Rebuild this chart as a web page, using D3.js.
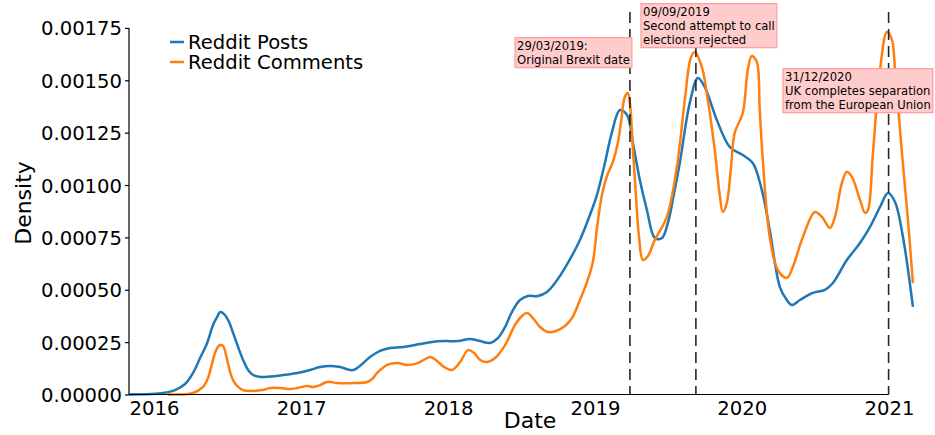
<!DOCTYPE html>
<html><head><meta charset="utf-8">
<script src="https://cdn.jsdelivr.net/npm/d3@7"></script>
<style>
html,body{margin:0;padding:0;background:#fff;}
svg{display:block;font-family:"DejaVu Sans",sans-serif;}
</style></head>
<body>
<svg id="chart" width="935" height="435"></svg>
<script>
// ---------- data (decimal years) ----------
const postsYears = [2015.830,2015.973,2016.061,2016.143,2016.211,2016.265,2016.313,2016.361,2016.401,2016.429,2016.449,2016.476,2016.510,2016.537,2016.571,2016.605,2016.639,2016.673,2016.721,2016.789,2016.857,2016.973,2017.061,2017.129,2017.197,2017.265,2017.354,2017.469,2017.537,2017.605,2017.694,2017.810,2017.891,2017.980,2018.068,2018.150,2018.218,2018.286,2018.340,2018.388,2018.435,2018.490,2018.544,2018.612,2018.673,2018.728,2018.796,2018.898,2018.966,2019.014,2019.068,2019.116,2019.170,2019.218,2019.259,2019.306,2019.354,2019.408,2019.456,2019.497,2019.537,2019.578,2019.646,2019.701,2019.748,2019.830,2019.918,2020.007,2020.075,2020.136,2020.190,2020.259,2020.306,2020.340,2020.395,2020.483,2020.565,2020.619,2020.714,2020.803,2020.871,2020.939,2020.993,2021.041,2021.095,2021.163];
const postsValues = [0,0.000002,0.000007,0.000021,0.00005,0.000103,0.000174,0.000246,0.000332,0.00037,0.000394,0.000384,0.000346,0.000294,0.000227,0.000165,0.000117,0.000093,0.000084,0.000086,0.000091,0.000103,0.000117,0.000131,0.000136,0.000131,0.000117,0.000179,0.000208,0.000222,0.000227,0.000241,0.000251,0.000255,0.000255,0.000265,0.000255,0.000246,0.00027,0.000322,0.000394,0.000451,0.00047,0.00047,0.000489,0.000532,0.000604,0.000738,0.000857,0.000953,0.001105,0.001253,0.001358,0.001335,0.0012,0.001024,0.000881,0.000747,0.000747,0.000819,0.000953,0.001105,0.001392,0.001511,0.001468,0.001311,0.001182,0.001143,0.001105,0.000977,0.000785,0.000513,0.000451,0.000427,0.000451,0.000485,0.000499,0.000532,0.000642,0.000723,0.0008,0.000895,0.000962,0.000919,0.000752,0.000418];

const commentsYears = [2016.095,2016.265,2016.333,2016.367,2016.395,2016.422,2016.449,2016.469,2016.497,2016.517,2016.537,2016.571,2016.605,2016.673,2016.735,2016.789,2016.857,2016.925,2016.973,2017.041,2017.082,2017.129,2017.177,2017.245,2017.354,2017.449,2017.483,2017.517,2017.585,2017.653,2017.721,2017.776,2017.823,2017.878,2017.925,2017.973,2018.027,2018.082,2018.136,2018.177,2018.218,2018.265,2018.320,2018.388,2018.456,2018.503,2018.537,2018.578,2018.626,2018.680,2018.735,2018.796,2018.844,2018.898,2018.946,2018.986,2019.014,2019.048,2019.082,2019.122,2019.156,2019.177,2019.204,2019.224,2019.238,2019.259,2019.279,2019.299,2019.327,2019.361,2019.408,2019.490,2019.558,2019.612,2019.653,2019.680,2019.728,2019.769,2019.816,2019.850,2019.871,2019.898,2019.925,2019.952,2020.007,2020.041,2020.068,2020.102,2020.122,2020.143,2020.190,2020.245,2020.306,2020.347,2020.415,2020.497,2020.544,2020.599,2020.633,2020.680,2020.714,2020.748,2020.803,2020.837,2020.857,2020.891,2020.939,2020.986,2021.020,2021.041,2021.088,2021.129,2021.163];
const commentsValues = [0,0.000007,0.000036,0.000079,0.00015,0.000212,0.000236,0.000232,0.000165,0.000107,0.000069,0.000036,0.000021,0.000017,0.000021,0.000031,0.000031,0.000026,0.000031,0.000041,0.000036,0.000045,0.00006,0.000055,0.000055,0.00006,0.000074,0.000103,0.000141,0.00015,0.000141,0.000146,0.00016,0.000179,0.00016,0.000131,0.000117,0.000155,0.000212,0.000198,0.000165,0.000155,0.000174,0.000236,0.000332,0.000375,0.000389,0.000365,0.000322,0.000298,0.000303,0.000327,0.000365,0.000451,0.000537,0.000633,0.000795,0.000953,0.001043,0.00111,0.001201,0.001296,0.001421,0.001439,0.001392,0.001168,0.000953,0.000762,0.000642,0.000661,0.000738,0.000848,0.001086,0.001406,0.001607,0.001635,0.001564,0.001406,0.001168,0.000953,0.000871,0.000914,0.001072,0.001249,0.001344,0.00155,0.001616,0.001588,0.001358,0.00112,0.000752,0.000594,0.000556,0.000609,0.000752,0.000871,0.000848,0.000795,0.000848,0.00101,0.001063,0.001039,0.000929,0.000867,0.000881,0.001153,0.00155,0.001731,0.001693,0.00155,0.001153,0.000833,0.000532];

const seriesNames = ["Reddit Posts","Reddit Comments"];
const seriesColors = ["#1f77b4","#ff7f0e"];
const yTicks = [0,0.00025,0.0005,0.00075,0.001,0.00125,0.0015,0.00175];
const xTickYears = [2016,2017,2018,2019,2020,2021];
const eventDates = ["2019-03-29","2019-09-09","2020-12-31"];
const eventLabels = [["29/03/2019:","Original Brexit date"],["09/09/2019","Second attempt to call","elections rejected"],["31/12/2020","UK completes separation","from the European Union"]];

// ---------- helpers ----------
function yearToDate(v){
  const yr = Math.floor(v);
  const a = Date.UTC(yr,0,1), b = Date.UTC(yr+1,0,1);
  return new Date(a + (v-yr)*(b-a));
}

const svg = d3.select("#chart");
const plotLeft = 129, plotTop = 12, plotBottom = 394.5;

const x = d3.scaleUtc().domain([new Date(Date.UTC(2016,0,1)), new Date(Date.UTC(2021,0,1))]).range([154, 889]);
const y = d3.scaleLinear().domain([0, 0.001826]).range([plotBottom, plotTop]);

const series = [
  postsYears.map((t,i)=>({d:yearToDate(t), v:postsValues[i]})),
  commentsYears.map((t,i)=>({d:yearToDate(t), v:commentsValues[i]}))
];

const line = d3.line().x(p=>x(p.d)).y(p=>y(p.v)).curve(d3.curveCatmullRom.alpha(0.5));

series.forEach((s,i)=>{
  svg.append("path").datum(s).attr("d",line)
    .attr("fill","none").attr("stroke",seriesColors[i]).attr("stroke-width",2.5)
    .attr("stroke-linejoin","round").attr("stroke-linecap","butt");
});

// event lines
eventDates.forEach(ds=>{
  const xd = x(new Date(ds+"T00:00:00Z"));
  svg.append("line").attr("x1",xd).attr("x2",xd).attr("y1",plotTop).attr("y2",plotBottom)
    .attr("stroke","#262626").attr("stroke-width",1.6).attr("stroke-dasharray","11,6");
});

// axes
const yAxis = d3.axisLeft(y).tickValues(yTicks).tickFormat(d3.format(".5f")).tickSize(4).tickSizeOuter(0).tickPadding(3);
const gy = svg.append("g").attr("transform",`translate(${plotLeft},0)`).call(yAxis);
gy.select(".domain").remove();
gy.selectAll(".tick line").attr("stroke","#000").attr("stroke-width",1.2);
gy.selectAll(".tick text").attr("font-size","19.6px").attr("font-family","DejaVu Sans").attr("fill","#000").attr("dy","0.36em");
svg.append("line").attr("x1",plotLeft).attr("x2",plotLeft).attr("y1",y(0.00175)).attr("y2",plotBottom)
  .attr("stroke","#000").attr("stroke-width",1.2);

const xAxis = d3.axisBottom(x).tickValues(xTickYears.map(v=>new Date(Date.UTC(v,0,1)))).tickFormat(d3.utcFormat("%Y")).tickSize(0).tickPadding(6.5).tickSizeOuter(0);
const gx = svg.append("g").attr("transform",`translate(0,${plotBottom})`).call(xAxis);
gx.select(".domain").remove();
gx.selectAll(".tick text").attr("font-size","19.6px").attr("font-family","DejaVu Sans").attr("fill","#000");
svg.append("line").attr("x1",plotLeft).attr("x2",x(new Date("2020-12-31T00:00:00Z"))).attr("y1",plotBottom).attr("y2",plotBottom)
  .attr("stroke","#000").attr("stroke-width",1.2);

// axis labels
svg.append("text").attr("x",530).attr("y",428).attr("text-anchor","middle")
  .attr("font-size","22px").text("Date");
svg.append("text").attr("transform","translate(31,203) rotate(-90)").attr("text-anchor","middle")
  .attr("font-size","22px").text("Density");

// legend
seriesNames.forEach((n,i)=>{
  const ly = 42 + i*20;
  svg.append("line").attr("x1",170).attr("x2",184).attr("y1",ly).attr("y2",ly)
    .attr("stroke",seriesColors[i]).attr("stroke-width",2.5);
  svg.append("text").attr("x",188).attr("y",ly+7).attr("font-size","19.6px").text(n);
});

// annotation boxes
const boxPos = [[517,45.5],[643,11.5],[785,76.5]];
eventLabels.forEach((lines,i)=>{
  const g = svg.append("g");
  const rect = g.append("rect");
  const t = g.append("text").attr("font-size","11.6px").attr("fill","#000");
  lines.forEach((ln,j)=>{
    t.append("tspan").attr("x",boxPos[i][0]).attr("y",boxPos[i][1]+j*14).attr("dy","0.36em").text(ln);
  });
  const bb = t.node().getBBox();
  rect.attr("x",bb.x-2).attr("y",bb.y-1).attr("width",bb.width+4).attr("height",bb.height+2)
    .attr("fill","#ffcccc").attr("stroke","#ff9a9a").attr("stroke-width",1.2);
});
</script>
</body></html>
